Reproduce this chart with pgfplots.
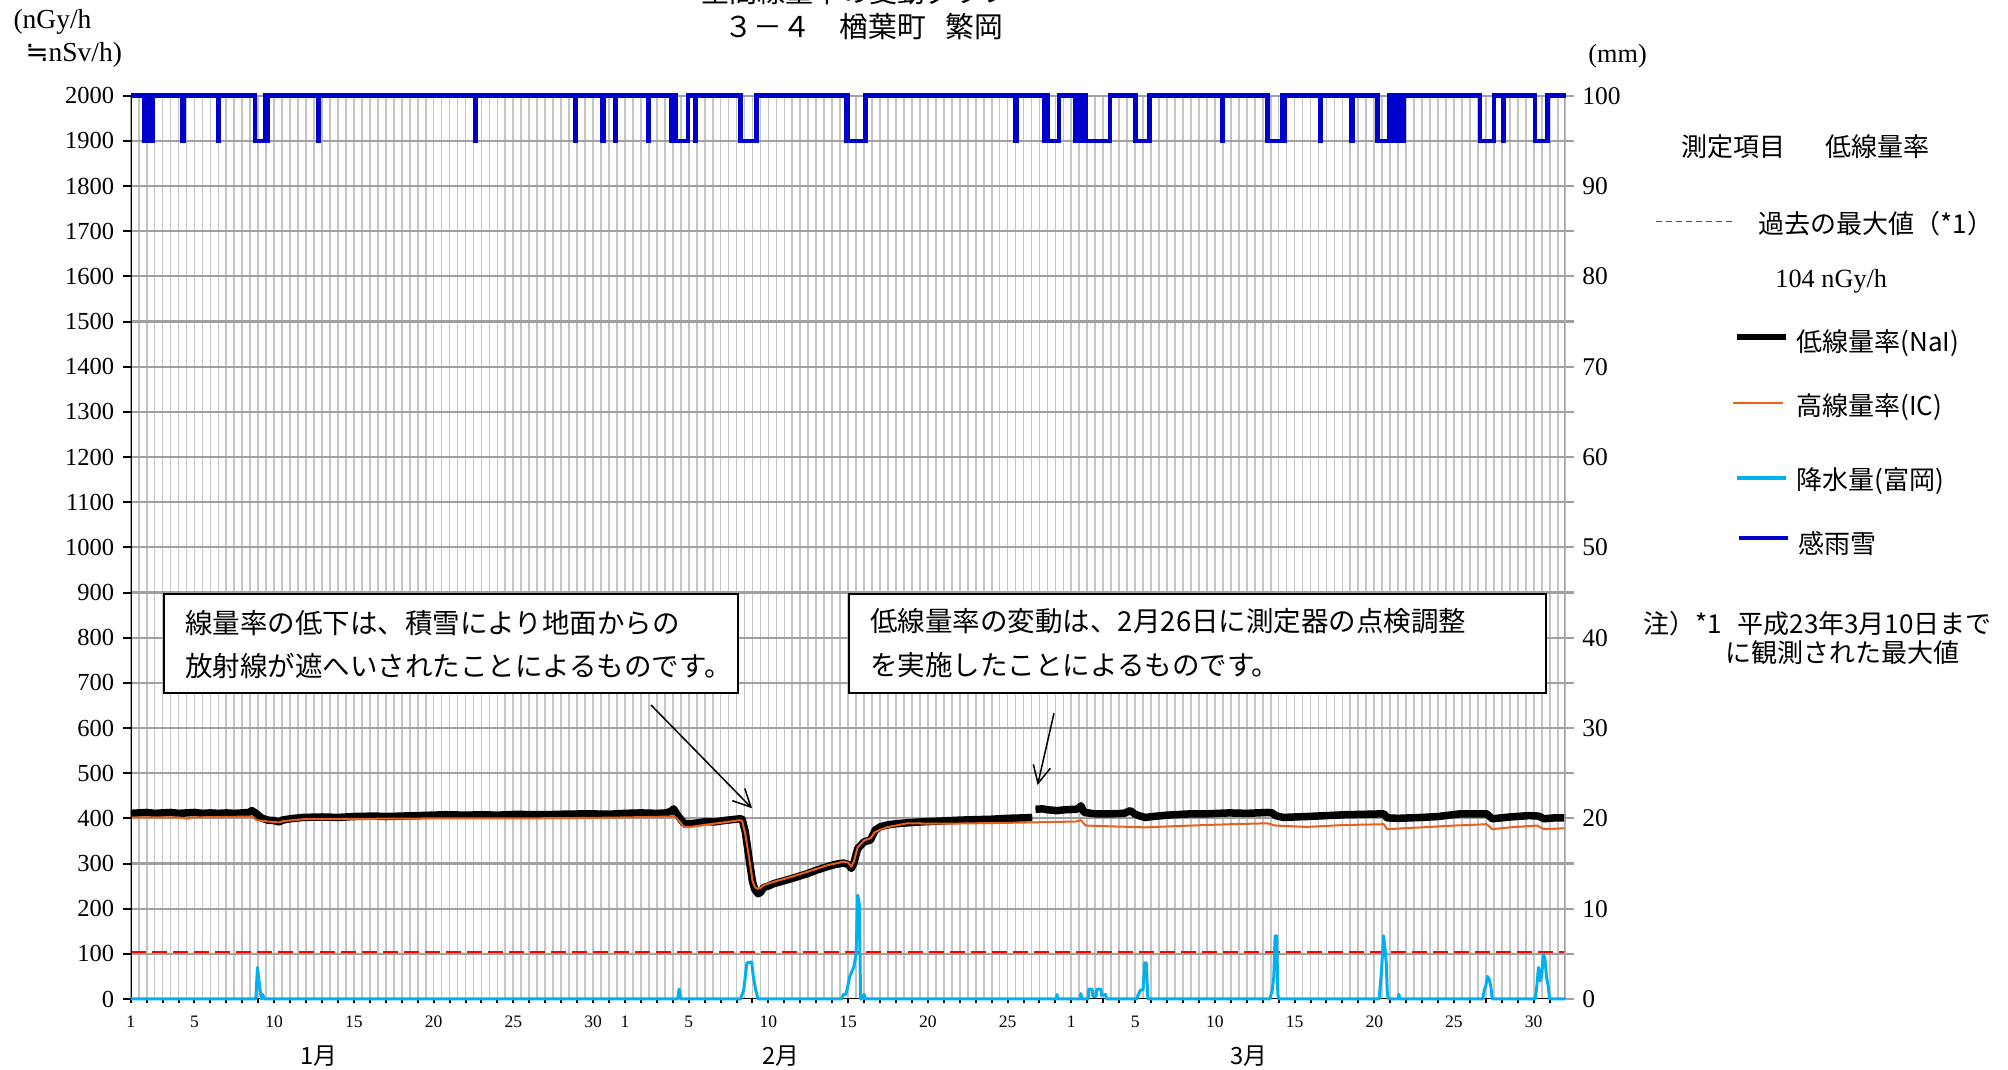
\documentclass[border=0pt]{standalone}
\usepackage{fontspec}
\setmainfont{Liberation Serif}
\newfontfamily\jp{Noto Sans CJK JP}
\newfontfamily\dejavu{DejaVu Sans}
\usepackage{pgfplots}
\pgfplotsset{compat=1.18}
\usetikzlibrary{arrows.meta}
\definecolor{gridh}{HTML}{A0A0A0}
\definecolor{gridv}{HTML}{C4C4C4}
\definecolor{iccol}{HTML}{E8601C}
\definecolor{raincol}{HTML}{00B0F0}
\definecolor{sensorcol}{HTML}{0000CC}
\begin{document}
\begin{tikzpicture}
\useasboundingbox (0,0) rectangle (803.2pt,428pt);
% ---------------- left axis: dose rates ----------------
\begin{axis}[
  scale only axis, width=573.96pt, height=361.32pt,
  at={(52.28pt,28.4pt)}, anchor=south west,
  xmin=0, xmax=90, ymin=0, ymax=2000,
  axis line style={draw=none},
  xtick={0,4,9,14,19,24,29,31,35,40,45,50,55,59,63,68,73,78,83,88},
  xticklabels={1,5,10,15,20,25,30,1,5,10,15,20,25,1,5,10,15,20,25,30},
  every major x tick/.append style={draw=none},
  minor xtick={0,1,...,89},
  ytick={0,100,...,2000},
  xtick pos=left, ytick pos=left,
  tick align=outside,
  major tick length=3.1pt, minor tick length=1.6pt,
  every tick/.style={black, line width=0.8pt},
  /pgf/number format/1000 sep={},
  /pgf/number format/assume math mode=true,
  yticklabel style={font=\fontsize{9.8}{11}\selectfont},
  xticklabel style={font=\fontsize{7}{8}\selectfont},
]
% grid
\pgfplotsinvokeforeach{0.5,1,...,89.5}{\draw[gridv, line width=0.7pt] (axis cs:#1,0) -- (axis cs:#1,2000);}
\pgfplotsinvokeforeach{100,200,...,2000}{\draw[gridh, line width=0.9pt] (axis cs:0,#1) -- (axis cs:90,#1);}
% past maximum
\addplot[red, line width=1pt, dash pattern=on 6pt off 2.4pt] coordinates {(0,104)(90,104)};
% NaI low dose rate
\addplot[black, line width=3pt, line join=round, mark=none] coordinates {
(0,411)(0.5,412)(1,413)(1.5,411)(2,412)(2.5,413)(3,411)(3.5,412)(4,413)(4.5,411)(5,412)(5.5,411)(6,412)(6.5,411)(7,412)(7.4,413)(7.6,417)(7.9,410)(8.2,401)(8.6,396)(9.0,395)(9.3,392)(9.5,396)(10,399)(10.8,402)(12,403)(13,402)(14,404)(15.3,405)(16,404)(17,405)(18,406)(19.8,408)(21,407)(22,408)(23,407)(24.3,409)(25,408)(26,408)(27,409)(28.7,410)(30,409)(31,411)(32,412)(33,411)(33.6,412)(33.9,416)(34.05,421)(34.3,407)(34.7,389)(35.1,388)(35.6,390)(36.1,393)(36.6,392)(37.2,395)(37.7,397)(38.2,399)(38.35,398)(38.55,370)(38.8,307)(39.0,260)(39.15,242)(39.35,233)(39.5,236)(39.7,247)(40.0,250)(40.3,255)(41.3,265)(42.4,277)(43.0,285)(43.7,293)(44.2,298)(44.7,301)(45.0,298)(45.2,289)(45.35,300)(45.6,333)(46.0,348)(46.4,352)(46.7,374)(47.0,381)(47.4,385)(48.0,388)(48.7,390)(49.5,392)(50.8,394)(52,396)(52.9,397)(54,398)(55,400)(56,401)(56.55,402)};
\addplot[black, line width=3pt, line join=round, mark=none] coordinates {
(56.75,420)(57.2,421)(57.5,419)(58.1,417)(58.6,419)(59.3,420)(59.5,423)(59.6,428)(59.8,413)(60.5,410)(61.5,410)(62.3,411)(62.7,417)(63.0,409)(63.4,404)(63.65,402)(64.1,404)(65,407)(66,409)(66.5,410)(67.5,410)(68.9,412)(70,411)(71.3,413)(71.6,412)(71.8,406)(72.3,402)(73,403)(73.75,404)(75,406)(76.2,408)(77.5,409)(78.6,410)(78.8,401)(79.5,400)(81,402)(82,404)(83.4,410)(84.5,410)(85.05,410)(85.4,399)(86.5,403)(87.7,406)(88.3,405)(88.65,399)(89.3,401)(90,401)};
% IC high dose rate
\addplot[iccol, line width=0.8pt, line join=round, mark=none] coordinates {
(0,402)(3,402)(3.6,399)(3.8,402)(7.6,404)(7.9,396)(8.6,393)(9.3,391)(9.6,394)(10.8,398)(15,399)(20,400)(25,400)(29,401)(31,402)(33.9,404)(34.05,406)(34.3,398)(34.7,381)(35.1,381)(36.1,386)(37.2,391)(38.2,396)(38.35,394)(38.55,365)(38.8,310)(39.0,262)(39.15,248)(39.3,244)(39.5,246)(39.7,252)(40.3,259)(41.3,269)(42.4,281)(43.7,296)(44.7,304)(45.0,302)(45.2,293)(45.35,304)(45.6,336)(46.0,351)(46.4,356)(46.7,370)(47.4,380)(48.7,389)(50.8,388)(52.9,389)(55,390)(56.5,391)(58,392)(59.3,393)(59.6,396)(59.9,384)(61.7,382)(63.65,380)(65,382)(66.5,384)(69,387)(71.3,389)(71.8,384)(73.75,381)(76,385)(78.6,387)(78.8,376)(81,380)(83,384)(85.05,387)(85.4,376)(86.5,380)(88.2,384)(88.65,376)(90,378)};
% frame
\draw[gridh, line width=0.9pt] (rel axis cs:1,0) -- (rel axis cs:1,1);
\draw[black, line width=1pt] (rel axis cs:0,1) -- (rel axis cs:0,0) -- (rel axis cs:1,0);
\end{axis}
% ---------------- right axis: precipitation (mm) ----------------
\begin{axis}[
  scale only axis, width=573.96pt, height=361.32pt,
  at={(52.28pt,28.4pt)}, anchor=south west,
  xmin=0, xmax=90, ymin=0, ymax=100,
  axis line style={draw=none},
  xtick=\empty,
  ytick={0,5,...,100},
  yticklabels={0,{},10,{},20,{},30,{},40,{},50,{},60,{},70,{},80,{},90,{},100},
  ytick pos=right, tick align=outside,
  major tick length=3.2pt,
  every tick/.style={gridh, line width=0.9pt},
  yticklabel style={font=\fontsize{10.2}{11}\selectfont, anchor=west},
  clip=false,
]
\addplot[raincol, line width=1.2pt, line join=round, mark=none] coordinates {
(0,0)(7.85,0)(7.95,3.5)(8.1,1.2)(8.2,0)(8.28,0.5)(8.38,0)(34.3,0)(34.4,1.1)(34.5,0)(38.25,0)(38.45,1)(38.65,4)(38.95,4.1)(39.05,2.5)(39.2,1)(39.35,0)(44.6,0)(44.7,0.5)(44.85,0.5)(44.95,1.2)(45.1,2.5)(45.35,3.5)(45.5,5)(45.6,11.5)(45.7,10.5)(45.78,0)(45.95,0)(46.0,0.5)(46.1,0)(58.05,0)(58.1,0.5)(58.15,0)(59.55,0)(59.6,0.6)(59.65,0)(60.05,0)(60.1,1.1)(60.3,1.1)(60.35,0.3)(60.55,0.3)(60.6,1.1)(60.85,1.1)(60.9,0.4)(61.15,0.5)(61.2,0)(63.1,0)(63.2,0.5)(63.35,1)(63.5,1)(63.6,4)(63.7,4)(63.8,0)(71.45,0)(71.6,1)(71.7,2.5)(71.78,7)(71.88,7)(71.95,0.5)(72.0,0)(78.3,0)(78.45,3)(78.58,7)(78.68,5.5)(78.75,4)(78.82,0.5)(78.9,0)(79.5,0)(79.55,0.5)(79.6,0)(84.8,0)(84.9,1)(85.0,1.5)(85.1,2.5)(85.2,2.2)(85.3,1.5)(85.4,0)(88.1,0)(88.2,1.5)(88.3,3.5)(88.4,2)(88.5,2.5)(88.6,5)(88.7,4.5)(88.8,2.5)(88.9,1.5)(89.0,0)(90,0)};
% rain/snow sensor (100 = none, 95 = detected)
\addplot[sensorcol, line width=1.8pt, mark=none] coordinates {
(0,100)
(0.82,100)(0.82,95)(0.9,95)(0.9,100)(0.95,100)(0.95,95)(1.05,95)(1.05,100)(1.1,100)(1.1,95)(1.2,95)(1.2,100)(1.25,100)(1.25,95)(1.4,95)(1.4,100)
(3.25,100)(3.25,95)(3.3,95)(3.3,100)
(5.49,100)(5.49,95)(5.54,95)(5.54,100)
(7.79,100)(7.79,95)(8.45,95)(8.45,100)(8.5,100)(8.5,95)(8.59,95)(8.59,100)
(11.74,100)(11.74,95)(11.79,95)(11.79,100)
(21.59,100)(21.59,95)(21.63,95)(21.63,100)
(27.87,100)(27.87,95)(27.91,95)(27.91,100)
(29.58,100)(29.58,95)(29.66,95)(29.66,100)
(30.37,100)(30.37,95)(30.42,95)(30.42,100)
(32.46,100)(32.46,95)(32.52,95)(32.52,100)
(33.88,100)(33.88,95)(33.95,95)(33.95,100)(34.0,100)(34.0,95)(34.15,95)(34.15,100)(34.2,100)(34.2,95)(34.94,95)(34.94,100)
(35.42,100)(35.42,95)(35.47,95)(35.47,100)
(38.26,100)(38.26,95)(39.26,95)(39.26,100)
(44.85,100)(44.85,95)(44.95,95)(44.95,100)(45.0,100)(45.0,95)(46.09,95)(46.09,100)
(55.51,100)(55.51,95)(55.56,95)(55.56,100)
(57.33,100)(57.33,95)(57.45,95)(57.45,100)(57.5,100)(57.5,95)(58.21,95)(58.21,100)
(59.23,100)(59.23,95)(59.35,95)(59.35,100)(59.4,100)(59.4,95)(59.6,95)(59.6,100)(59.65,100)(59.65,95)(59.85,95)(59.85,100)(59.9,100)(59.9,95)(61.42,95)(61.42,100)
(63.03,100)(63.03,95)(63.91,95)(63.91,100)
(68.47,100)(68.47,95)(68.52,95)(68.52,100)
(71.29,100)(71.29,95)(72.2,95)(72.2,100)(72.25,100)(72.25,95)(72.37,95)(72.37,100)
(74.6,100)(74.6,95)(74.65,95)(74.65,100)
(76.57,100)(76.57,95)(76.66,95)(76.66,100)
(78.21,100)(78.21,95)(78.95,95)(78.95,100)(79.1,100)(79.1,95)(79.3,95)(79.3,100)(79.35,100)(79.35,95)(79.55,95)(79.55,100)(79.6,100)(79.6,95)(79.82,95)(79.82,100)
(84.63,100)(84.63,95)(85.51,95)(85.51,100)
(86.07,100)(86.07,95)(86.12,95)(86.12,100)
(88.08,100)(88.08,95)(88.87,95)(88.87,100)
(90,100)};
\end{axis}
% ---------------- texts, legend, annotations ----------------
\begin{scope}[x=0.4pt,y=0.4pt]
% titles
\node[font=\jp\fontsize{11.2}{13}\selectfont, inner sep=0] at (855.5,1078.5) {空間線量率の変動グラフ};
\node[font=\jp\fontsize{11.5}{13}\selectfont, inner sep=0] at (864,1043) {３－４　楢葉町\hspace{0.7em}繁岡};
% axis units
\node[anchor=west, inner sep=0, font=\fontsize{11}{12}\selectfont] at (13,1048) {(nGy/h};
\node[anchor=west, inner sep=0, font=\fontsize{11}{12}\selectfont] at (25,1015) {{\dejavu ≒}nSv/h)};
\node[anchor=west, inner sep=0, font=\fontsize{10.5}{12}\selectfont] at (1588,1013.7) {(mm)};
% months
\node[font=\jp\fontsize{9.5}{11}\selectfont, inner sep=0] at (318.9,13.5) {1月};
\node[font=\jp\fontsize{9.5}{11}\selectfont, inner sep=0] at (781.2,13.5) {2月};
\node[font=\jp\fontsize{9.5}{11}\selectfont, inner sep=0] at (1248.6,13.5) {3月};
% legend block
\node[anchor=west, inner sep=0, font=\jp\fontsize{10.4}{12}\selectfont] at (1681,923) {測定項目};
\node[anchor=west, inner sep=0, font=\jp\fontsize{10.4}{12}\selectfont] at (1824.6,923) {低線量率};
\draw[red, line width=0.5pt, dash pattern=on 2.6pt off 1.4pt] (1656,848.5) -- (1736,848.5);
\node[anchor=west, inner sep=0, font=\jp\fontsize{10.4}{12}\selectfont] at (1758,846) {過去の最大値（*1）};
\node[anchor=west, inner sep=0, font=\fontsize{10.5}{12}\selectfont] at (1775,788.3) {104 nGy/h};
\draw[black, line width=2.4pt] (1737,733.2) -- (1786,733.2);
\node[anchor=west, inner sep=0, font=\jp\fontsize{10.4}{12}\selectfont] at (1796,727) {低線量率(NaI)};
\draw[iccol, line width=0.8pt] (1733,666.6) -- (1783,666.6);
\node[anchor=west, inner sep=0, font=\jp\fontsize{10.4}{12}\selectfont] at (1796,663) {高線量率(IC)};
\draw[raincol, line width=1.6pt] (1737,592.3) -- (1786,592.3);
\node[anchor=west, inner sep=0, font=\jp\fontsize{10.4}{12}\selectfont] at (1796,588.5) {降水量(富岡)};
\draw[sensorcol, line width=1.6pt] (1739,532.1) -- (1788,532.1);
\node[anchor=west, inner sep=0, font=\jp\fontsize{10.4}{12}\selectfont] at (1798,526) {感雨雪};
\node[anchor=west, inner sep=0, font=\jp\fontsize{10.4}{12}\selectfont] at (1643,446.4) {注）*1\hspace{0.6em}平成23年3月10日まで};
\node[anchor=west, inner sep=0, font=\jp\fontsize{10.4}{12}\selectfont] at (1724.6,417) {に観測された最大値};
% annotation boxes
\draw[black, line width=0.8pt, fill=white] (164.5,377) rectangle (738,476);
\node[anchor=west, inner sep=0, font=\jp\fontsize{11}{13}\selectfont] at (184.7,447) {線量率の低下は、積雪により地面からの};
\node[anchor=west, inner sep=0, font=\jp\fontsize{11}{13}\selectfont] at (184.7,404) {放射線が遮へいされたことによるものです。};
\draw[black, line width=0.8pt, fill=white] (849,377) rectangle (1546.4,476);
\node[anchor=west, inner sep=0, font=\jp\fontsize{11}{13}\selectfont] at (870,448.5) {低線量率の変動は、2月26日に測定器の点検調整};
\node[anchor=west, inner sep=0, font=\jp\fontsize{11}{13}\selectfont] at (870,405) {を実施したことによるものです。};
% arrows
\draw[line width=0.6pt, -{Straight Barb[length=7pt,width=7pt]}] (651,365) -- (752,261.7);
\draw[line width=0.6pt, -{Straight Barb[length=7pt,width=7pt]}] (1054,356.7) -- (1037.6,285);
\end{scope}
\end{tikzpicture}
\end{document}
